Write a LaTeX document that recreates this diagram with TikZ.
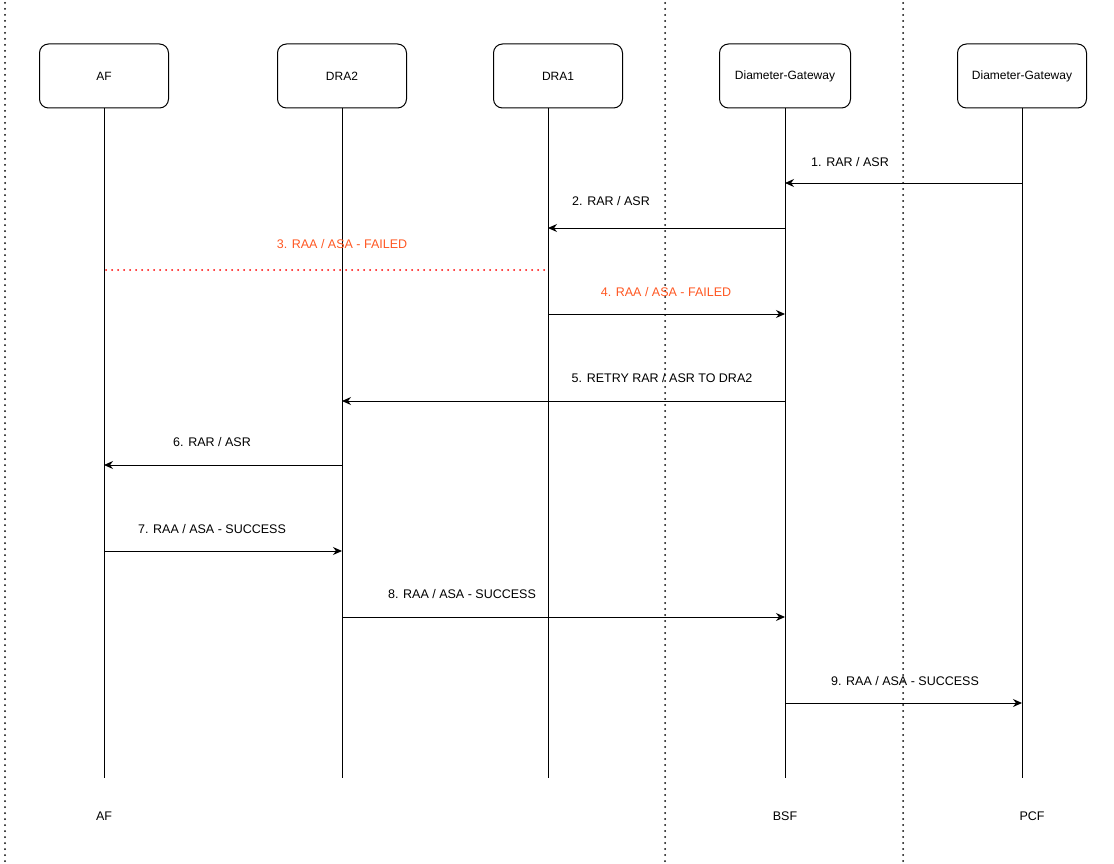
\documentclass[tikz,border=0pt]{standalone}
\usepackage{fontspec}
\setmainfont{Liberation Sans}
\usetikzlibrary{arrows.meta}
\begin{document}
\begin{tikzpicture}[x=1pt,y=-1pt,
  box/.style={draw,line width=1pt,rounded corners=9pt,minimum width=129pt,minimum height=64pt,font=\fontsize{12}{14}\selectfont,inner sep=0pt},
  life/.style={draw,line width=1pt},
  msg/.style={-{Stealth[length=9pt,width=8pt]},line width=1pt},
  lbl/.style={font=\fontsize{12.5}{14}\selectfont},
  fail/.style={lbl,text={rgb,255:red,255;green,87;blue,34}},
  sep/.style={line width=2pt,line cap=round,dash pattern=on 0pt off 6pt}]
\useasboundingbox (0,0) rectangle (1114,864);
\draw[sep] (5,3) -- (5,864);
\draw[sep] (665,3) -- (665,864);
\draw[sep] (903,3) -- (903,864);
\node[box] (af) at (104,76) {AF};
\node[box] (dra2) at (342,76) {DRA2};
\node[box] (dra1) at (558,76) {DRA1};
\node[box,minimum width=131pt] (dg) at (785,76) {Diameter-Gateway};
\node[box] (dg2) at (1022,76) {Diameter-Gateway};
\coordinate (eaf) at (104,778);
\coordinate (edra2) at (342,778);
\coordinate (edra1) at (548,778);
\coordinate (edg) at (785,778);
\coordinate (edg2) at (1022,778);
\draw[life] (af.south) -- (eaf);
\draw[life] (dra2.south) -- (edra2);
\draw[life] (548,108) -- (edra1);
\draw[life] (dg.south) -- (edg);
\draw[life] (dg2.south) -- (edg2);
\node[lbl] (baf) at (104,816) {AF};
\node[lbl] (bbsf) at (785,816) {BSF};
\node[lbl] (bpcf) at (1032,816) {PCF};
\draw[msg] (1022,183) -- (785,183);
\node[lbl] (l1) at (850,162) {1. RAR / ASR};
\draw[msg] (785,228) -- (548,228);
\node[lbl] (l2) at (611,201) {2. RAR / ASR};
\draw[red,line width=2pt,line cap=round,dash pattern=on 0pt off 6pt] (106,270) -- (548,270);
\node[fail] (l3) at (342,244) {3. RAA / ASA - FAILED};
\draw[msg] (548,314) -- (785,314);
\node[fail] (l4) at (666,292) {4. RAA / ASA - FAILED};
\draw[msg] (785,401) -- (342,401);
\node[lbl] (l5) at (662,378) {5. RETRY RAR / ASR TO DRA2};
\draw[msg] (342,465) -- (104,465);
\node[lbl] (l6) at (212,442) {6. RAR / ASR};
\draw[msg] (104,551) -- (342,551);
\node[lbl] (l7) at (212,529) {7. RAA / ASA - SUCCESS};
\draw[msg] (342,617) -- (785,617);
\node[lbl] (l8) at (462,594) {8. RAA / ASA - SUCCESS};
\draw[msg] (785,703) -- (1022,703);
\node[lbl] (l9) at (905,681) {9. RAA / ASA - SUCCESS};
\end{tikzpicture}
\end{document}
